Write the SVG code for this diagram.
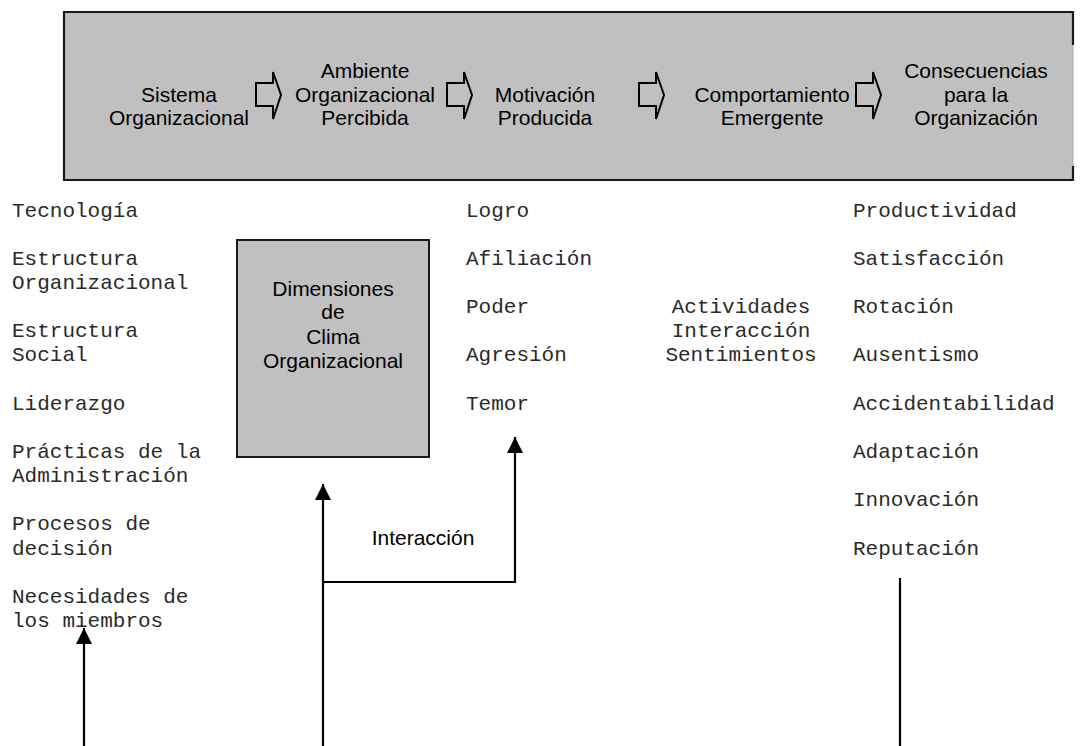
<svg xmlns="http://www.w3.org/2000/svg" width="1080" height="746" viewBox="0 0 1080 746">
<style>
.sans{font-family:"Liberation Sans",Arial,sans-serif;font-size:21px;fill:#000;text-anchor:middle}
.mono{font-family:"Liberation Mono","Courier New",monospace;font-size:21px;fill:#2a2a2a}
.ln{stroke:#000;stroke-width:2.2;fill:none}
.blk{fill:none;stroke:#000;stroke-width:2}
</style>
<defs>
<marker id="ah" markerWidth="16" markerHeight="16" viewBox="0 0 16 16" refX="16" refY="8" orient="auto" markerUnits="userSpaceOnUse">
<path d="M0,0 L16,8 L0,16 Z" fill="#000"/>
</marker>
<path id="barrow" d="M0,11 H17 V0 L25,23 L17,47 V34 H0 Z"/>
</defs>
<rect width="1080" height="746" fill="#fff"/>
<g id="header">
<rect x="64" y="12" width="1009" height="168" fill="#c0c0c0"/>
<path d="M1073,45 V12 H64 V180 H1073 V166" fill="none" stroke="#1a1a1a" stroke-width="2.2"/>
<path d="M1073,45 V166" fill="none" stroke="#a8a8a8" stroke-width="1"/>
</g>
<g id="n-sistema">
<text class="sans" x="179" y="102">Sistema</text>
<text class="sans" x="179" y="125">Organizacional</text>
</g>
<g id="n-ambiente">
<text class="sans" x="365" y="78">Ambiente</text>
<text class="sans" x="365" y="102">Organizacional</text>
<text class="sans" x="365" y="125">Percibida</text>
</g>
<g id="n-motivacion">
<text class="sans" x="545" y="102">Motivación</text>
<text class="sans" x="545" y="125">Producida</text>
</g>
<g id="n-comportamiento">
<text class="sans" x="772" y="102">Comportamiento</text>
<text class="sans" x="772" y="125">Emergente</text>
</g>
<g id="n-consecuencias">
<text class="sans" x="976" y="78">Consecuencias</text>
<text class="sans" x="976" y="102">para la</text>
<text class="sans" x="976" y="125">Organización</text>
</g>
<g id="block-arrows">
<use href="#barrow" class="blk" x="256" y="72"/>
<use href="#barrow" class="blk" x="447" y="72"/>
<use href="#barrow" class="blk" x="639" y="72"/>
<use href="#barrow" class="blk" x="856" y="72"/>
</g>
<g id="n-factores">
<text class="mono" x="12" y="217">Tecnología</text>
<text class="mono" x="12" y="265">Estructura</text>
<text class="mono" x="12" y="289">Organizacional</text>
<text class="mono" x="12" y="337">Estructura</text>
<text class="mono" x="12" y="361">Social</text>
<text class="mono" x="12" y="410">Liderazgo</text>
<text class="mono" x="12" y="458">Prácticas de la</text>
<text class="mono" x="12" y="482">Administración</text>
<text class="mono" x="12" y="530">Procesos de</text>
<text class="mono" x="12" y="555">decisión</text>
<text class="mono" x="12" y="603">Necesidades de</text>
<text class="mono" x="12" y="627">los miembros</text>
</g>
<g id="n-dimensiones">
<rect x="237" y="240" width="192" height="217" fill="#c0c0c0" stroke="#1a1a1a" stroke-width="2"/>
<text class="sans" x="333" y="296">Dimensiones</text>
<text class="sans" x="333" y="319">de</text>
<text class="sans" x="333" y="344">Clima</text>
<text class="sans" x="333" y="368">Organizacional</text>
</g>
<g id="n-motivos">
<text class="mono" x="466" y="217">Logro</text>
<text class="mono" x="466" y="265">Afiliación</text>
<text class="mono" x="466" y="313">Poder</text>
<text class="mono" x="466" y="361">Agresión</text>
<text class="mono" x="466" y="410">Temor</text>
</g>
<g id="n-comportamientos">
<text class="mono" x="741" y="313" text-anchor="middle">Actividades</text>
<text class="mono" x="741" y="337" text-anchor="middle">Interacción</text>
<text class="mono" x="741" y="361" text-anchor="middle">Sentimientos</text>
</g>
<g id="n-resultados">
<text class="mono" x="853" y="217">Productividad</text>
<text class="mono" x="853" y="265">Satisfacción</text>
<text class="mono" x="853" y="313">Rotación</text>
<text class="mono" x="853" y="361">Ausentismo</text>
<text class="mono" x="853" y="410">Accidentabilidad</text>
<text class="mono" x="853" y="458">Adaptación</text>
<text class="mono" x="853" y="506">Innovación</text>
<text class="mono" x="853" y="555">Reputación</text>
</g>
<g id="connectors">
<line class="ln" x1="84" y1="746" x2="84" y2="628" marker-end="url(#ah)"/>
<line class="ln" x1="323" y1="746" x2="323" y2="484" marker-end="url(#ah)"/>
<polyline class="ln" points="323,582 515,582 515,437" marker-end="url(#ah)"/>
<line class="ln" x1="900" y1="578" x2="900" y2="746"/>
<text class="sans" x="423" y="545">Interacción</text>
</g>
</svg>
